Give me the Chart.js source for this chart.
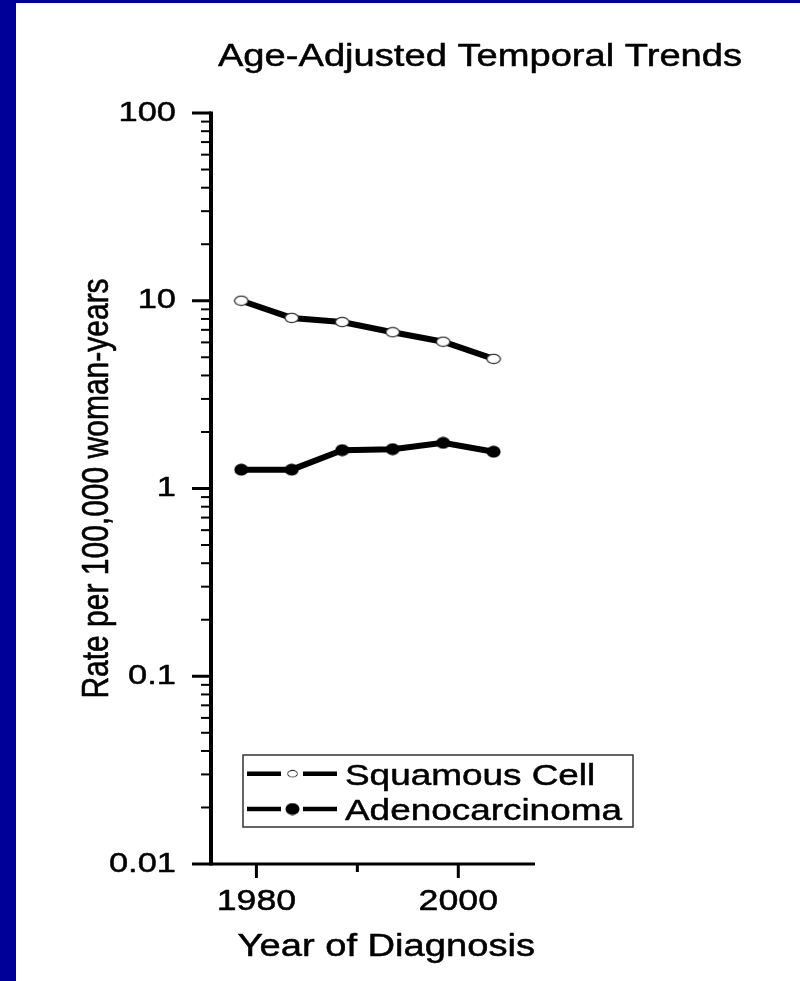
<!DOCTYPE html>
<html><head><meta charset="utf-8">
<script src="https://cdn.jsdelivr.net/npm/chart.js@4"></script>
<style>
html,body{margin:0;padding:0;background:#000099;width:800px;height:981px;overflow:hidden}
#wrap{position:absolute;left:16px;top:3px;width:784px;height:978px;background:#fff}
canvas{display:block}
</style></head><body>
<div id="wrap"><canvas id="c" width="784" height="978"></canvas></div>
<script>
// ---- data ----
const chartTitle = 'Age-Adjusted Temporal Trends';
const xTitle = 'Year of Diagnosis';
const yTitle = 'Rate per 100,000 woman-years';
const seriesNames = ['Squamous Cell', 'Adenocarcinoma'];
const years = [1978.5, 1983.5, 1988.5, 1993.5, 1998.5, 2003.5];
const squamous = [10.0, 8.1, 7.7, 6.8, 6.05, 4.9];
const adeno = [1.26, 1.26, 1.6, 1.62, 1.75, 1.57];
const yTickValues = [0.01, 0.1, 1, 10, 100];
const yTickLabels = ['0.01', '0.1', '1', '10', '100'];
const xTickValues = [1980, 1990, 2000];
const xTickLabels = ['1980', '', '2000'];

// ---- style ----
const FONT = '"Liberation Sans", Arial, Helvetica, sans-serif';
const SX = 1.23;      // horizontal stretch of the reference picture
const BOLDEN = 0.5;   // extra stroke to mimic the heavier reference glyphs

const canvas = document.getElementById('c');
const ctx = canvas.getContext('2d');
const origFill = ctx.fillText.bind(ctx);
const origStroke = ctx.strokeText.bind(ctx);
ctx.fillText = function (text, x, y) {
  const m = ctx.getTransform();
  const p = m.transformPoint(new DOMPoint(x, y));
  const s = new DOMMatrix().translate(p.x, p.y).scale(SX, 1).translate(-p.x, -p.y).multiply(m);
  ctx.save();
  ctx.setTransform(s);
  origFill(text, x, y);
  if (BOLDEN > 0) {
    ctx.lineWidth = BOLDEN;
    ctx.lineJoin = 'round';
    ctx.strokeStyle = ctx.fillStyle;
    origStroke(text, x, y);
  }
  ctx.restore();
};

function ellipseImg(w, h, fill, stroke, lw) {
  const c = document.createElement('canvas');
  c.width = w; c.height = h;
  const g = c.getContext('2d');
  g.beginPath();
  g.ellipse(w / 2, h / 2, w / 2 - lw, h / 2 - lw, 0, 0, Math.PI * 2);
  g.fillStyle = fill; g.fill();
  if (stroke) { g.lineWidth = lw; g.strokeStyle = stroke; g.stroke(); }
  return c;
}
const openMarker = ellipseImg(16, 12, '#ffffff', '#333333', 1.3);
const fillMarker = ellipseImg(15, 13, '#000000', null, 0.5);

const axesPlugin = {
  id: 'axesDraw',
  beforeDatasetsDraw(chart) {
    const { ctx: g, chartArea: a, scales: { x, y } } = chart;
    g.save();
    g.strokeStyle = '#000';
    g.lineCap = 'butt';
    y.ticks.forEach(t => {
      const py = y.getPixelForValue(t.value);
      const len = t.major ? 19 : 10;
      g.lineWidth = t.major ? 3 : 2;
      g.beginPath(); g.moveTo(a.left - len, py); g.lineTo(a.left, py); g.stroke();
    });
    x.ticks.forEach(t => {
      const px = x.getPixelForValue(t.value);
      const len = t.major ? 14 : 8;
      g.lineWidth = 3;
      g.beginPath(); g.moveTo(px, a.bottom); g.lineTo(px, a.bottom + len); g.stroke();
    });
    g.lineWidth = 4;
    g.beginPath(); g.moveTo(a.left, a.top - 1.5); g.lineTo(a.left, a.bottom + 1.5); g.stroke();
    g.lineWidth = 3;
    g.beginPath(); g.moveTo(a.left, a.bottom); g.lineTo(a.right, a.bottom); g.stroke();
    g.restore();
  },
  afterDraw(chart) {
    const { ctx: g, chartArea: a } = chart;
    g.save();
    // title
    g.fillStyle = '#000';
    g.font = '31px ' + FONT;
    g.textAlign = 'center';
    g.textBaseline = 'alphabetic';
    g.fillText(chartTitle, a.left + 269, a.top - 47.5);
    // legend
    const bl = a.left + 32, br = a.left + 422, bt = a.bottom - 109, bb = a.bottom - 37;
    g.fillStyle = '#fff';
    g.fillRect(bl, bt, br - bl, bb - bt);
    g.strokeStyle = '#333';
    g.lineWidth = 1.5;
    g.strokeRect(bl, bt, br - bl, bb - bt);
    const rows = [bt + 18.7, bt + 54];
    chart.data.datasets.forEach((ds, i) => {
      const cy = rows[i];
      g.strokeStyle = ds.borderColor;
      g.lineWidth = 4.5;
      g.beginPath(); g.moveTo(bl + 4, cy); g.lineTo(bl + 38, cy); g.stroke();
      g.beginPath(); g.moveTo(bl + 60, cy); g.lineTo(bl + 94, cy); g.stroke();
      const img = ds.pointStyle;
      const sc = i === 0 ? 0.72 : 1.0;
      g.drawImage(img, bl + 49.5 - img.width * sc / 2, cy - img.height * sc / 2, img.width * sc, img.height * sc);
      g.fillStyle = '#000';
      g.font = '30px ' + FONT;
      g.textAlign = 'left';
      g.textBaseline = 'alphabetic';
      g.fillText(ds.label, bl + 102, cy + 11);
    });
    g.restore();
  }
};

function makeData(ys) { return years.map((yr, i) => ({ x: yr, y: ys[i] })); }

const yAllTicks = [];
yTickValues.forEach((d, i) => {
  yAllTicks.push({ value: d, major: true });
  if (i < yTickValues.length - 1) {
    for (let k = 2; k <= 9; k++) yAllTicks.push({ value: k * d, major: false });
  }
});

new Chart(ctx, {
  type: 'line',
  data: {
    datasets: [
      {
        label: seriesNames[0], data: makeData(squamous),
        borderColor: '#000', borderWidth: 6, tension: 0,
        pointStyle: openMarker, pointRadius: 7, pointHoverRadius: 7
      },
      {
        label: seriesNames[1], data: makeData(adeno),
        borderColor: '#000', borderWidth: 6, tension: 0,
        pointStyle: fillMarker, pointRadius: 7, pointHoverRadius: 7
      }
    ]
  },
  options: {
    responsive: false,
    animation: false,
    devicePixelRatio: 1,
    layout: { padding: { top: 110, right: 265, left: 0, bottom: 0 } },
    plugins: { legend: { display: false }, tooltip: { enabled: false }, title: { display: false } },
    scales: {
      x: {
        type: 'linear', min: 1975.5, max: 2007.6,
        grid: { display: false, drawTicks: false },
        border: { display: false },
        afterBuildTicks: s => { s.ticks = xTickValues.map((v, i) => ({ value: v, major: xTickLabels[i] !== '' })); },
        afterFit: s => { s.height = 117; },
        ticks: {
          autoSkip: false, maxRotation: 0, minRotation: 0, padding: 21, color: '#000',
          font: { family: FONT, size: 29 },
          callback: v => { const k = xTickValues.indexOf(v); return k >= 0 ? xTickLabels[k] : ''; }
        },
        title: { display: true, text: xTitle, align: 'end', color: '#000', font: { family: FONT, size: 31 }, padding: { top: 0, bottom: 15 } }
      },
      y: {
        type: 'logarithmic', min: 0.01, max: 100,
        grid: { display: false, drawTicks: false },
        border: { display: false },
        afterBuildTicks: s => { s.ticks = yAllTicks.map(t => ({ value: t.value, major: t.major })); },
        afterFit: s => { s.width = 195; },
        ticks: {
          autoSkip: false, padding: 35, color: '#000',
          font: { family: FONT, size: 28 },
          callback: v => {
            const k = yTickValues.findIndex(tv => Math.abs(Math.log10(tv) - Math.log10(v)) < 1e-6);
            return k >= 0 ? yTickLabels[k] : '';
          }
        },
        title: { display: true, text: yTitle, color: '#000', font: { family: FONT, size: 30 }, padding: { top: 64, bottom: 0 } }
      }
    }
  },
  plugins: [axesPlugin]
});
</script>
</body></html>
